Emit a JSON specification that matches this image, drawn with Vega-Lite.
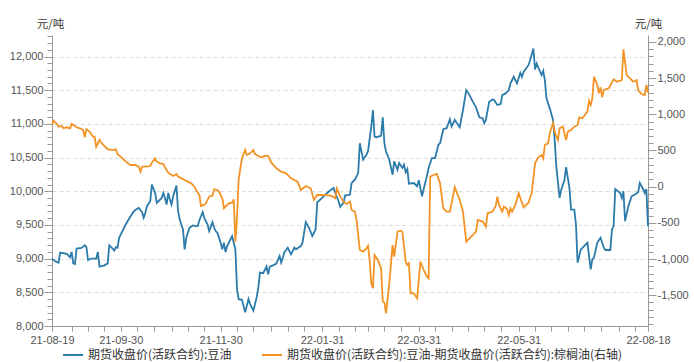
{
  "$schema": "https://vega.github.io/schema/vega-lite/v6.json",
  "width": 596,
  "height": 291,
  "autosize": {"type": "none"},
  "padding": {"left": 52, "top": 35, "right": 46, "bottom": 36},
  "background": "white",
  "config": {
    "view": {"stroke": null},
    "axis": {
      "labelFont": "Liberation Sans",
      "labelFontSize": 11,
      "labelColor": "#555555",
      "domainColor": "#999999",
      "tickColor": "#999999",
      "titleFont": "Noto Sans CJK SC",
      "titleFontWeight": "normal",
      "titleFontSize": 11.5,
      "titleColor": "#333333"
    }
  },
  "datasets": {
    "bean": [
      {"date":"2021-08-19","value":9000},{"date":"2021-08-21","value":8960},{"date":"2021-08-23","value":8940},{"date":"2021-08-24","value":9090},{"date":"2021-08-28","value":9070},{"date":"2021-08-30","value":9020},{"date":"2021-08-31","value":9100},{"date":"2021-09-01","value":8930},{"date":"2021-09-02","value":8920},{"date":"2021-09-03","value":9150},{"date":"2021-09-06","value":9160},{"date":"2021-09-08","value":9200},{"date":"2021-09-09","value":9170},{"date":"2021-09-10","value":8980},{"date":"2021-09-12","value":9000},{"date":"2021-09-15","value":9000},{"date":"2021-09-16","value":9100},{"date":"2021-09-17","value":8880},{"date":"2021-09-20","value":8900},{"date":"2021-09-22","value":8930},{"date":"2021-09-23","value":9200},{"date":"2021-09-25","value":9150},{"date":"2021-09-26","value":9120},{"date":"2021-09-27","value":9170},{"date":"2021-09-28","value":9160},{"date":"2021-09-29","value":9310},
      {"date":"2021-10-01","value":9409},{"date":"2021-10-03","value":9507},{"date":"2021-10-06","value":9630},{"date":"2021-10-08","value":9704},{"date":"2021-10-10","value":9739},{"date":"2021-10-11","value":9754},{"date":"2021-10-13","value":9690},{"date":"2021-10-14","value":9606},{"date":"2021-10-15","value":9680},{"date":"2021-10-16","value":9778},{"date":"2021-10-18","value":9852},{"date":"2021-10-19","value":10098},{"date":"2021-10-21","value":9975},{"date":"2021-10-22","value":9828},{"date":"2021-10-23","value":9852},{"date":"2021-10-25","value":9901},{"date":"2021-10-26","value":9975},{"date":"2021-10-27","value":9901},{"date":"2021-10-28","value":9803},{"date":"2021-10-29","value":9975},{"date":"2021-10-30","value":9877},{"date":"2021-10-31","value":9803},
      {"date":"2021-11-01","value":9926},{"date":"2021-11-03","value":10084},{"date":"2021-11-04","value":9704},{"date":"2021-11-05","value":9581},{"date":"2021-11-07","value":9433},{"date":"2021-11-08","value":9138},{"date":"2021-11-09","value":9310},{"date":"2021-11-11","value":9458},{"date":"2021-11-13","value":9493},{"date":"2021-11-15","value":9483},{"date":"2021-11-16","value":9483},{"date":"2021-11-17","value":9571},{"date":"2021-11-19","value":9690},{"date":"2021-11-20","value":9606},{"date":"2021-11-22","value":9507},{"date":"2021-11-23","value":9409},{"date":"2021-11-25","value":9542},{"date":"2021-11-26","value":9458},{"date":"2021-11-27","value":9409},{"date":"2021-11-28","value":9384},{"date":"2021-11-30","value":9236},
      {"date":"2021-12-01","value":9138},{"date":"2021-12-02","value":9236},{"date":"2021-12-03","value":9099},{"date":"2021-12-04","value":9187},{"date":"2021-12-05","value":9236},{"date":"2021-12-07","value":9335},{"date":"2021-12-08","value":9236},{"date":"2021-12-09","value":9138},{"date":"2021-12-10","value":8547},{"date":"2021-12-11","value":8399},{"date":"2021-12-13","value":8389},{"date":"2021-12-15","value":8202},{"date":"2021-12-17","value":8399},{"date":"2021-12-18","value":8325},{"date":"2021-12-20","value":8227},{"date":"2021-12-22","value":8424},{"date":"2021-12-23","value":8571},{"date":"2021-12-24","value":8793},{"date":"2021-12-26","value":8783},{"date":"2021-12-28","value":8882},{"date":"2021-12-29","value":8768},{"date":"2021-12-30","value":8882},
      {"date":"2022-01-01","value":8901},{"date":"2022-01-03","value":8926},{"date":"2022-01-05","value":9039},{"date":"2022-01-06","value":8941},{"date":"2022-01-08","value":9099},{"date":"2022-01-10","value":9163},{"date":"2022-01-12","value":9064},{"date":"2022-01-14","value":9163},{"date":"2022-01-15","value":9138},{"date":"2022-01-18","value":9187},{"date":"2022-01-19","value":9236},{"date":"2022-01-21","value":9542},{"date":"2022-01-23","value":9458},{"date":"2022-01-25","value":9335},{"date":"2022-01-27","value":9433},{"date":"2022-01-28","value":9837},{"date":"2022-01-31","value":9901},
      {"date":"2022-02-03","value":9975},{"date":"2022-02-05","value":10015},{"date":"2022-02-07","value":10049},{"date":"2022-02-08","value":9975},{"date":"2022-02-10","value":9852},{"date":"2022-02-11","value":9768},{"date":"2022-02-13","value":9828},{"date":"2022-02-14","value":9936},{"date":"2022-02-17","value":9951},{"date":"2022-02-18","value":10123},{"date":"2022-02-20","value":10172},{"date":"2022-02-22","value":10271},{"date":"2022-02-23","value":10714},{"date":"2022-02-25","value":10468},{"date":"2022-02-27","value":10542},{"date":"2022-02-28","value":10591},
      {"date":"2022-03-02","value":10960},{"date":"2022-03-03","value":11207},{"date":"2022-03-04","value":10813},{"date":"2022-03-05","value":10803},{"date":"2022-03-08","value":10823},{"date":"2022-03-09","value":11099},{"date":"2022-03-10","value":10714},{"date":"2022-03-11","value":10591},{"date":"2022-03-13","value":10468},{"date":"2022-03-15","value":10246},{"date":"2022-03-16","value":10443},{"date":"2022-03-18","value":10320},{"date":"2022-03-19","value":10419},{"date":"2022-03-21","value":10345},{"date":"2022-03-22","value":10394},{"date":"2022-03-23","value":10281},{"date":"2022-03-24","value":10330},{"date":"2022-03-25","value":10113},{"date":"2022-03-28","value":10123},{"date":"2022-03-30","value":10074},{"date":"2022-03-31","value":10163},
      {"date":"2022-04-02","value":9926},{"date":"2022-04-03","value":10034},{"date":"2022-04-05","value":10231},{"date":"2022-04-06","value":10345},{"date":"2022-04-08","value":10493},{"date":"2022-04-10","value":10493},{"date":"2022-04-12","value":10690},{"date":"2022-04-13","value":10714},{"date":"2022-04-15","value":10921},{"date":"2022-04-17","value":10936},{"date":"2022-04-19","value":11069},{"date":"2022-04-20","value":10960},{"date":"2022-04-22","value":11059},{"date":"2022-04-23","value":11020},{"date":"2022-04-25","value":10951},{"date":"2022-04-27","value":11207},{"date":"2022-04-29","value":11502},
      {"date":"2022-05-01","value":11428},{"date":"2022-05-03","value":11330},{"date":"2022-05-05","value":11246},{"date":"2022-05-07","value":11099},{"date":"2022-05-09","value":11084},{"date":"2022-05-10","value":11010},{"date":"2022-05-11","value":11059},{"date":"2022-05-13","value":11330},{"date":"2022-05-15","value":11364},{"date":"2022-05-16","value":11354},{"date":"2022-05-18","value":11281},{"date":"2022-05-20","value":11296},{"date":"2022-05-21","value":11428},{"date":"2022-05-23","value":11453},{"date":"2022-05-25","value":11502},{"date":"2022-05-26","value":11601},{"date":"2022-05-28","value":11699},{"date":"2022-05-30","value":11601},
      {"date":"2022-06-01","value":11758},{"date":"2022-06-02","value":11699},{"date":"2022-06-03","value":11773},{"date":"2022-06-06","value":11872},{"date":"2022-06-07","value":11946},{"date":"2022-06-09","value":12118},{"date":"2022-06-10","value":11808},{"date":"2022-06-11","value":11897},{"date":"2022-06-12","value":11838},{"date":"2022-06-14","value":11724},{"date":"2022-06-15","value":11788},{"date":"2022-06-16","value":11650},{"date":"2022-06-17","value":11379},{"date":"2022-06-19","value":11231},{"date":"2022-06-21","value":11059},{"date":"2022-06-22","value":10764},{"date":"2022-06-23","value":10370},{"date":"2022-06-25","value":9901},{"date":"2022-06-26","value":10024},{"date":"2022-06-28","value":10172},{"date":"2022-06-29","value":10360},
      {"date":"2022-07-01","value":10049},{"date":"2022-07-02","value":9729},{"date":"2022-07-04","value":9729},{"date":"2022-07-05","value":9507},{"date":"2022-07-06","value":8941},{"date":"2022-07-08","value":9138},{"date":"2022-07-10","value":9187},{"date":"2022-07-12","value":9236},{"date":"2022-07-14","value":8842},{"date":"2022-07-15","value":8990},{"date":"2022-07-16","value":9015},{"date":"2022-07-18","value":9236},{"date":"2022-07-20","value":9310},{"date":"2022-07-22","value":9163},{"date":"2022-07-23","value":9128},{"date":"2022-07-26","value":9128},{"date":"2022-07-27","value":9433},{"date":"2022-07-28","value":9483},{"date":"2022-07-29","value":10034},
      {"date":"2022-08-01","value":9975},{"date":"2022-08-02","value":9901},{"date":"2022-08-03","value":10000},{"date":"2022-08-04","value":9557},{"date":"2022-08-06","value":9778},{"date":"2022-08-08","value":9926},{"date":"2022-08-10","value":9951},{"date":"2022-08-12","value":9985},{"date":"2022-08-13","value":10123},{"date":"2022-08-15","value":10034},{"date":"2022-08-16","value":9975},{"date":"2022-08-17","value":10034},{"date":"2022-08-18","value":9483}
    ],
    "spread": [
      {"date":"2021-08-19","value":861},{"date":"2021-08-20","value":912},{"date":"2021-08-22","value":866},{"date":"2021-08-23","value":829},{"date":"2021-08-25","value":838},{"date":"2021-08-26","value":806},{"date":"2021-08-28","value":820},{"date":"2021-08-30","value":806},{"date":"2021-08-31","value":866},{"date":"2021-09-01","value":852},{"date":"2021-09-03","value":820},{"date":"2021-09-05","value":806},{"date":"2021-09-07","value":783},{"date":"2021-09-08","value":681},{"date":"2021-09-09","value":792},{"date":"2021-09-11","value":760},{"date":"2021-09-13","value":691},{"date":"2021-09-14","value":691},{"date":"2021-09-15","value":552},{"date":"2021-09-17","value":645},{"date":"2021-09-18","value":608},{"date":"2021-09-20","value":562},{"date":"2021-09-22","value":516},{"date":"2021-09-23","value":516},{"date":"2021-09-25","value":506},{"date":"2021-09-27","value":516},{"date":"2021-09-28","value":451},
      {"date":"2021-10-01","value":391},{"date":"2021-10-03","value":345},{"date":"2021-10-06","value":299},{"date":"2021-10-09","value":299},{"date":"2021-10-11","value":276},{"date":"2021-10-12","value":207},{"date":"2021-10-13","value":276},{"date":"2021-10-15","value":276},{"date":"2021-10-18","value":285},{"date":"2021-10-19","value":331},{"date":"2021-10-21","value":391},{"date":"2021-10-22","value":345},{"date":"2021-10-24","value":322},{"date":"2021-10-26","value":313},{"date":"2021-10-28","value":230},{"date":"2021-10-29","value":193},{"date":"2021-10-30","value":175},
      {"date":"2021-11-01","value":147},{"date":"2021-11-03","value":175},{"date":"2021-11-04","value":138},{"date":"2021-11-06","value":115},{"date":"2021-11-08","value":92},{"date":"2021-11-10","value":69},{"date":"2021-11-12","value":46},{"date":"2021-11-14","value":0},{"date":"2021-11-15","value":-46},{"date":"2021-11-17","value":-115},{"date":"2021-11-18","value":-267},{"date":"2021-11-20","value":-253},{"date":"2021-11-21","value":-230},{"date":"2021-11-23","value":-138},{"date":"2021-11-25","value":-124},{"date":"2021-11-26","value":-37},{"date":"2021-11-28","value":-46},{"date":"2021-11-29","value":-69},
      {"date":"2021-12-01","value":-161},{"date":"2021-12-02","value":-299},{"date":"2021-12-04","value":-253},{"date":"2021-12-05","value":-230},{"date":"2021-12-07","value":-221},{"date":"2021-12-08","value":-175},{"date":"2021-12-09","value":-760},{"date":"2021-12-10","value":-414},{"date":"2021-12-11","value":100},{"date":"2021-12-13","value":391},{"date":"2021-12-15","value":506},{"date":"2021-12-16","value":437},{"date":"2021-12-18","value":460},{"date":"2021-12-20","value":506},{"date":"2021-12-21","value":451},{"date":"2021-12-23","value":424},{"date":"2021-12-25","value":405},{"date":"2021-12-27","value":424},{"date":"2021-12-29","value":424},{"date":"2021-12-31","value":331},
      {"date":"2022-01-03","value":253},{"date":"2022-01-06","value":207},{"date":"2022-01-09","value":184},{"date":"2022-01-12","value":115},{"date":"2022-01-16","value":69},{"date":"2022-01-18","value":-46},{"date":"2022-01-21","value":9},{"date":"2022-01-24","value":-23},{"date":"2022-01-26","value":-184},{"date":"2022-01-28","value":-115},
      {"date":"2022-02-02","value":-115},{"date":"2022-02-06","value":-129},{"date":"2022-02-08","value":-161},{"date":"2022-02-09","value":-23},{"date":"2022-02-11","value":-138},{"date":"2022-02-13","value":-207},{"date":"2022-02-15","value":-239},{"date":"2022-02-17","value":-207},{"date":"2022-02-18","value":-322},{"date":"2022-02-20","value":-345},{"date":"2022-02-21","value":-460},{"date":"2022-02-23","value":-875},{"date":"2022-02-25","value":-898},{"date":"2022-02-27","value":-852},{"date":"2022-02-28","value":-820},
      {"date":"2022-03-01","value":-1013},{"date":"2022-03-02","value":-1335},{"date":"2022-03-03","value":-1404},{"date":"2022-03-04","value":-944},{"date":"2022-03-06","value":-1013},{"date":"2022-03-08","value":-1128},{"date":"2022-03-09","value":-1588},{"date":"2022-03-10","value":-1602},{"date":"2022-03-11","value":-1750},{"date":"2022-03-13","value":-1335},{"date":"2022-03-15","value":-806},{"date":"2022-03-16","value":-967},{"date":"2022-03-18","value":-622},{"date":"2022-03-20","value":-608},{"date":"2022-03-21","value":-622},{"date":"2022-03-23","value":-1036},{"date":"2022-03-24","value":-1082},{"date":"2022-03-25","value":-1059},{"date":"2022-03-26","value":-1473},{"date":"2022-03-28","value":-1473},{"date":"2022-03-30","value":-1542},
      {"date":"2022-04-01","value":-1036},{"date":"2022-04-03","value":-1151},{"date":"2022-04-05","value":-1243},{"date":"2022-04-06","value":-1266},{"date":"2022-04-07","value":138},{"date":"2022-04-09","value":161},{"date":"2022-04-11","value":175},{"date":"2022-04-13","value":46},{"date":"2022-04-15","value":-299},{"date":"2022-04-17","value":-345},{"date":"2022-04-19","value":-345},{"date":"2022-04-22","value":-9},{"date":"2022-04-25","value":-184},{"date":"2022-04-27","value":-345},{"date":"2022-04-29","value":-760},
      {"date":"2022-05-01","value":-714},{"date":"2022-05-05","value":-622},{"date":"2022-05-06","value":-460},{"date":"2022-05-09","value":-483},{"date":"2022-05-11","value":-552},{"date":"2022-05-12","value":-368},{"date":"2022-05-15","value":-345},{"date":"2022-05-17","value":-267},{"date":"2022-05-18","value":-138},{"date":"2022-05-19","value":-253},{"date":"2022-05-21","value":-345},{"date":"2022-05-22","value":-276},{"date":"2022-05-24","value":-313},{"date":"2022-05-25","value":-391},{"date":"2022-05-26","value":-299},{"date":"2022-05-27","value":-345},{"date":"2022-05-29","value":-253},{"date":"2022-05-31","value":-92},
      {"date":"2022-06-03","value":-285},{"date":"2022-06-06","value":-221},{"date":"2022-06-08","value":-83},{"date":"2022-06-10","value":322},{"date":"2022-06-12","value":405},{"date":"2022-06-14","value":437},{"date":"2022-06-15","value":391},{"date":"2022-06-16","value":575},{"date":"2022-06-18","value":599},{"date":"2022-06-19","value":737},{"date":"2022-06-21","value":875},{"date":"2022-06-22","value":760},{"date":"2022-06-24","value":645},{"date":"2022-06-25","value":806},{"date":"2022-06-27","value":829},{"date":"2022-06-29","value":645},{"date":"2022-06-30","value":760},
      {"date":"2022-07-02","value":783},{"date":"2022-07-04","value":829},{"date":"2022-07-06","value":852},{"date":"2022-07-07","value":958},{"date":"2022-07-09","value":944},{"date":"2022-07-12","value":1036},{"date":"2022-07-13","value":1188},{"date":"2022-07-14","value":1128},{"date":"2022-07-15","value":1220},{"date":"2022-07-16","value":1519},{"date":"2022-07-18","value":1404},{"date":"2022-07-19","value":1289},{"date":"2022-07-20","value":1372},{"date":"2022-07-21","value":1234},{"date":"2022-07-22","value":1335},{"date":"2022-07-25","value":1358},{"date":"2022-07-28","value":1482},{"date":"2022-07-30","value":1450},
      {"date":"2022-08-02","value":1473},{"date":"2022-08-03","value":1897},{"date":"2022-08-05","value":1542},{"date":"2022-08-07","value":1496},{"date":"2022-08-09","value":1450},{"date":"2022-08-11","value":1473},{"date":"2022-08-12","value":1335},{"date":"2022-08-14","value":1280},{"date":"2022-08-16","value":1266},{"date":"2022-08-17","value":1404},{"date":"2022-08-18","value":1300}
    ]
  },
  "layer": [
    {
      "data": {"name": "bean"},
      "mark": {"type": "line", "strokeWidth": 1.8},
      "encoding": {
        "x": {
          "field": "date",
          "type": "temporal",
          "scale": {"type": "utc", "domain": [{"year": 2021, "month": 8, "date": 19, "utc": true}, {"year": 2022, "month": 8, "date": 18, "utc": true}]},
          "axis": {
            "orient": "bottom",
            "title": null,
            "grid": false,
            "tickSize": 5,
            "labelPadding": 3,
            "labelOverlap": false,
            "labelFlush": false,
            "format": "%y-%m-%d",
            "values": [
              {"year":2021,"month":8,"date":19,"utc":true},{"year":2021,"month":9,"date":30,"utc":true},{"year":2021,"month":11,"date":30,"utc":true},{"year":2022,"month":1,"date":31,"utc":true},{"year":2022,"month":3,"date":31,"utc":true},{"year":2022,"month":5,"date":31,"utc":true},{"year":2022,"month":8,"date":18,"utc":true}
            ]
          }
        },
        "y": {
          "field": "value",
          "type": "quantitative",
          "scale": {"domain": [8000, 12320], "nice": false, "zero": false},
          "axis": {
            "orient": "left",
            "values": [8000,8100,8200,8300,8400,8500,8600,8700,8800,8900,9000,9100,9200,9300,9400,9500,9600,9700,9800,9900,10000,10100,10200,10300,10400,10500,10600,10700,10800,10900,11000,11100,11200,11300,11400,11500,11600,11700,11800,11900,12000,12100,12200,12300],
            "labelExpr": "datum.value % 500 === 0 ? format(datum.value, ',') : ''",
            "labelOverlap": false,
            "labelPadding": 1,
            "tickSize": {"condition": {"test": "datum.value % 500 === 0", "value": 8}, "value": 5},
            "grid": true,
            "gridColor": "#dcdcdc",
            "gridDash": [4, 3],
            "gridOpacity": {"condition": {"test": "datum.value % 500 === 0 && datum.value > 8000", "value": 1}, "value": 0},
            "title": "元/吨",
            "titleAngle": 0,
            "titleAlign": "center",
            "titleBaseline": "middle",
            "titleX": -2,
            "titleY": -11
          }
        },
        "color": {
          "datum": "期货收盘价(活跃合约):豆油",
          "type": "nominal",
          "scale": {
            "domain": ["期货收盘价(活跃合约):豆油", "期货收盘价(活跃合约):豆油-期货收盘价(活跃合约):棕榈油(右轴)"],
            "range": ["#2b7bab", "#f39325"]
          },
          "legend": {
            "orient": "none",
            "legendX": 10,
            "legendY": 309,
            "direction": "horizontal",
            "title": null,
            "labelFont": "Noto Sans CJK SC",
            "labelFontSize": 12,
            "labelColor": "#333333",
            "labelLimit": 600,
            "symbolType": "stroke",
            "symbolSize": 400,
            "symbolStrokeWidth": 2,
            "columnPadding": 26
          }
        }
      }
    },
    {
      "data": {"name": "spread"},
      "mark": {"type": "line", "strokeWidth": 1.8},
      "encoding": {
        "x": {
          "field": "date",
          "type": "temporal",
          "axis": {
            "orient": "bottom",
            "title": null,
            "grid": false,
            "labels": false,
            "domain": false,
            "tickSize": 5,
            "values": [
              {"year":2021,"month":8,"date":31,"utc":true},{"year":2021,"month":9,"date":10,"utc":true},{"year":2021,"month":9,"date":20,"utc":true},{"year":2021,"month":10,"date":10,"utc":true},{"year":2021,"month":10,"date":20,"utc":true},{"year":2021,"month":10,"date":31,"utc":true},{"year":2021,"month":11,"date":10,"utc":true},{"year":2021,"month":11,"date":20,"utc":true},{"year":2021,"month":12,"date":10,"utc":true},{"year":2021,"month":12,"date":20,"utc":true},{"year":2021,"month":12,"date":31,"utc":true},
              {"year":2022,"month":1,"date":10,"utc":true},{"year":2022,"month":1,"date":20,"utc":true},{"year":2022,"month":2,"date":10,"utc":true},{"year":2022,"month":2,"date":20,"utc":true},{"year":2022,"month":2,"date":28,"utc":true},{"year":2022,"month":3,"date":10,"utc":true},{"year":2022,"month":3,"date":20,"utc":true},{"year":2022,"month":4,"date":10,"utc":true},{"year":2022,"month":4,"date":20,"utc":true},{"year":2022,"month":4,"date":30,"utc":true},{"year":2022,"month":5,"date":10,"utc":true},{"year":2022,"month":5,"date":20,"utc":true},{"year":2022,"month":6,"date":10,"utc":true},{"year":2022,"month":6,"date":20,"utc":true},{"year":2022,"month":6,"date":30,"utc":true},{"year":2022,"month":7,"date":10,"utc":true},{"year":2022,"month":7,"date":20,"utc":true},{"year":2022,"month":7,"date":31,"utc":true},{"year":2022,"month":8,"date":10,"utc":true}
            ]
          }
        },
        "y": {
          "field": "value",
          "type": "quantitative",
          "scale": {"domain": [-1925, 2095], "nice": false, "zero": false},
          "axis": {
            "orient": "right",
            "values": [-1900,-1800,-1700,-1600,-1500,-1400,-1300,-1200,-1100,-1000,-900,-800,-700,-600,-500,-400,-300,-200,-100,0,100,200,300,400,500,600,700,800,900,1000,1100,1200,1300,1400,1500,1600,1700,1800,1900,2000],
            "labelExpr": "datum.value % 500 === 0 ? replace(format(datum.value, ','), '−', '-') : ''",
            "labelOverlap": false,
            "labelPadding": 1,
            "tickSize": {"condition": {"test": "datum.value % 500 === 0", "value": 8}, "value": 5},
            "grid": false,
            "title": "元/吨",
            "titleAngle": 0,
            "titleAlign": "center",
            "titleBaseline": "middle",
            "titleX": 0,
            "titleY": -11
          }
        },
        "color": {"datum": "期货收盘价(活跃合约):豆油-期货收盘价(活跃合约):棕榈油(右轴)", "type": "nominal"}
      }
    }
  ],
  "resolve": {"scale": {"y": "independent"}, "axis": {"x": "independent"}}
}
